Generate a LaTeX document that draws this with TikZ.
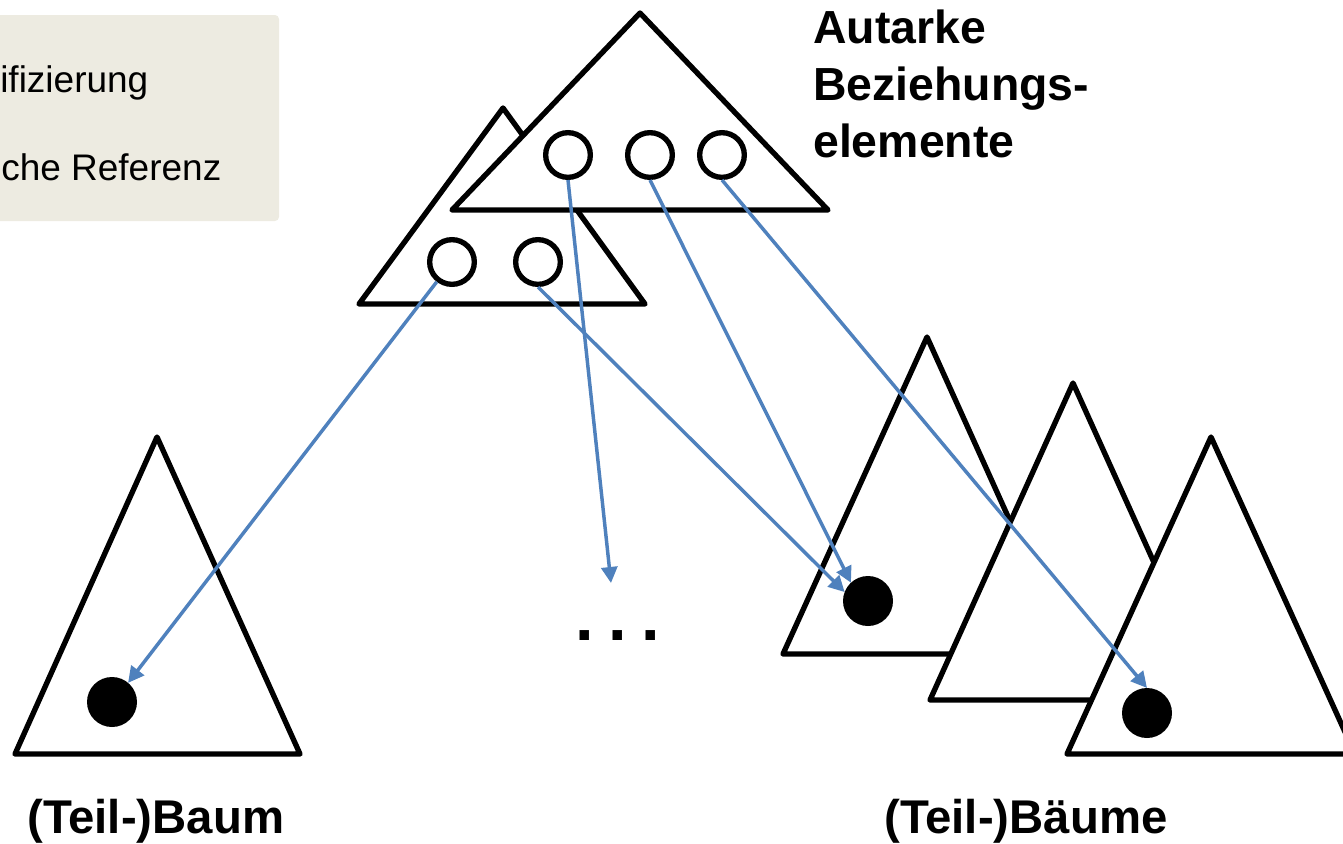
\documentclass[tikz,border=0pt]{standalone}
\usepackage{fontspec}
\setmainfont{Liberation Sans}
\usetikzlibrary{arrows.meta}
\definecolor{legendbg}{HTML}{EDEBE1}
\definecolor{arrowblue}{HTML}{4F81BD}
\begin{document}
\begin{tikzpicture}[x=0.75pt,y=-0.75pt,
  tri/.style={draw=black,fill=white,line width=4pt,line join=round},
  ring/.style={circle,draw=black,fill=white,line width=4pt,minimum size=33.5pt,inner sep=0pt},
  dot/.style={circle,fill=black,minimum size=37.5pt,inner sep=0pt,outer sep=0pt},
  link/.style={draw=arrowblue,line width=2.6pt,-{Triangle[length=12pt,width=12pt]}},
  big/.style={font=\bfseries\fontsize{34.8}{42}\selectfont,inner sep=0pt,anchor=base west},
  bottom/.style={font=\bfseries\fontsize{35.5}{42}\selectfont,inner sep=0pt,anchor=base west},
  legend/.style={font=\fontsize{27.75}{33}\selectfont,inner sep=0pt,anchor=base west}]
\useasboundingbox (0,0) rectangle (1343,843);
% legend box
\fill[legendbg,rounded corners=3pt] (-10,15) rectangle (279,221);
\node[legend] (g1) at (0,92) {ifizierung};
\node[legend] (g2) at (1,180) {che Referenz};
% top triangles
\draw[tri] (503,108) -- (645,304) -- (359,304) -- cycle;
\draw[tri] (640,13) -- (828,210) -- (452,210) -- cycle;
\node[ring] (u1) at (568,155) {};
\node[ring] (u2) at (650,155) {};
\node[ring] (u3) at (722,155) {};
\node[ring] (l1) at (452,262) {};
\node[ring] (l2) at (538,262) {};
% left tree
\draw[tri] (157,437) -- (300,754) -- (15,754) -- cycle;
\node[dot] (d0) at (112,702) {};
% right trees
\draw[tri] (927,337) -- (1070,654) -- (783,654) -- cycle;
\node[dot] (d1) at (868,601) {};
\draw[tri] (1073,383) -- (1216,700) -- (930,700) -- cycle;
\draw[tri] (1211,437) -- (1355,754) -- (1067,754) -- cycle;
\node[dot] (d3) at (1147,713) {};
% ellipsis
\node[font=\bfseries\fontsize{50}{60}\selectfont,inner sep=0pt,anchor=base west] (el) at (575,640) {.\kern11pt.\kern11pt.};
\coordinate (dd) at (611,583);
% arrows
\draw[link] (l1) -- (d0.50);
\draw[link] (l2.south) -- (d1.159);
\draw[link] (u1.south) -- (dd);
\draw[link] (u2.south) -- (d1.133);
\draw[link] (u3.south) -- (d3.north);
% labels
\node[big] (t1) at (813,43) {Autarke};
\node[big] (t2) at (813,100) {Beziehungs-};
\node[big] (t3) at (813,157) {elemente};
\node[bottom] (b1) at (27,833) {(Teil-)Baum};
\node[bottom] (b2) at (884,833) {(Teil-)Bäume};
\end{tikzpicture}
\end{document}
